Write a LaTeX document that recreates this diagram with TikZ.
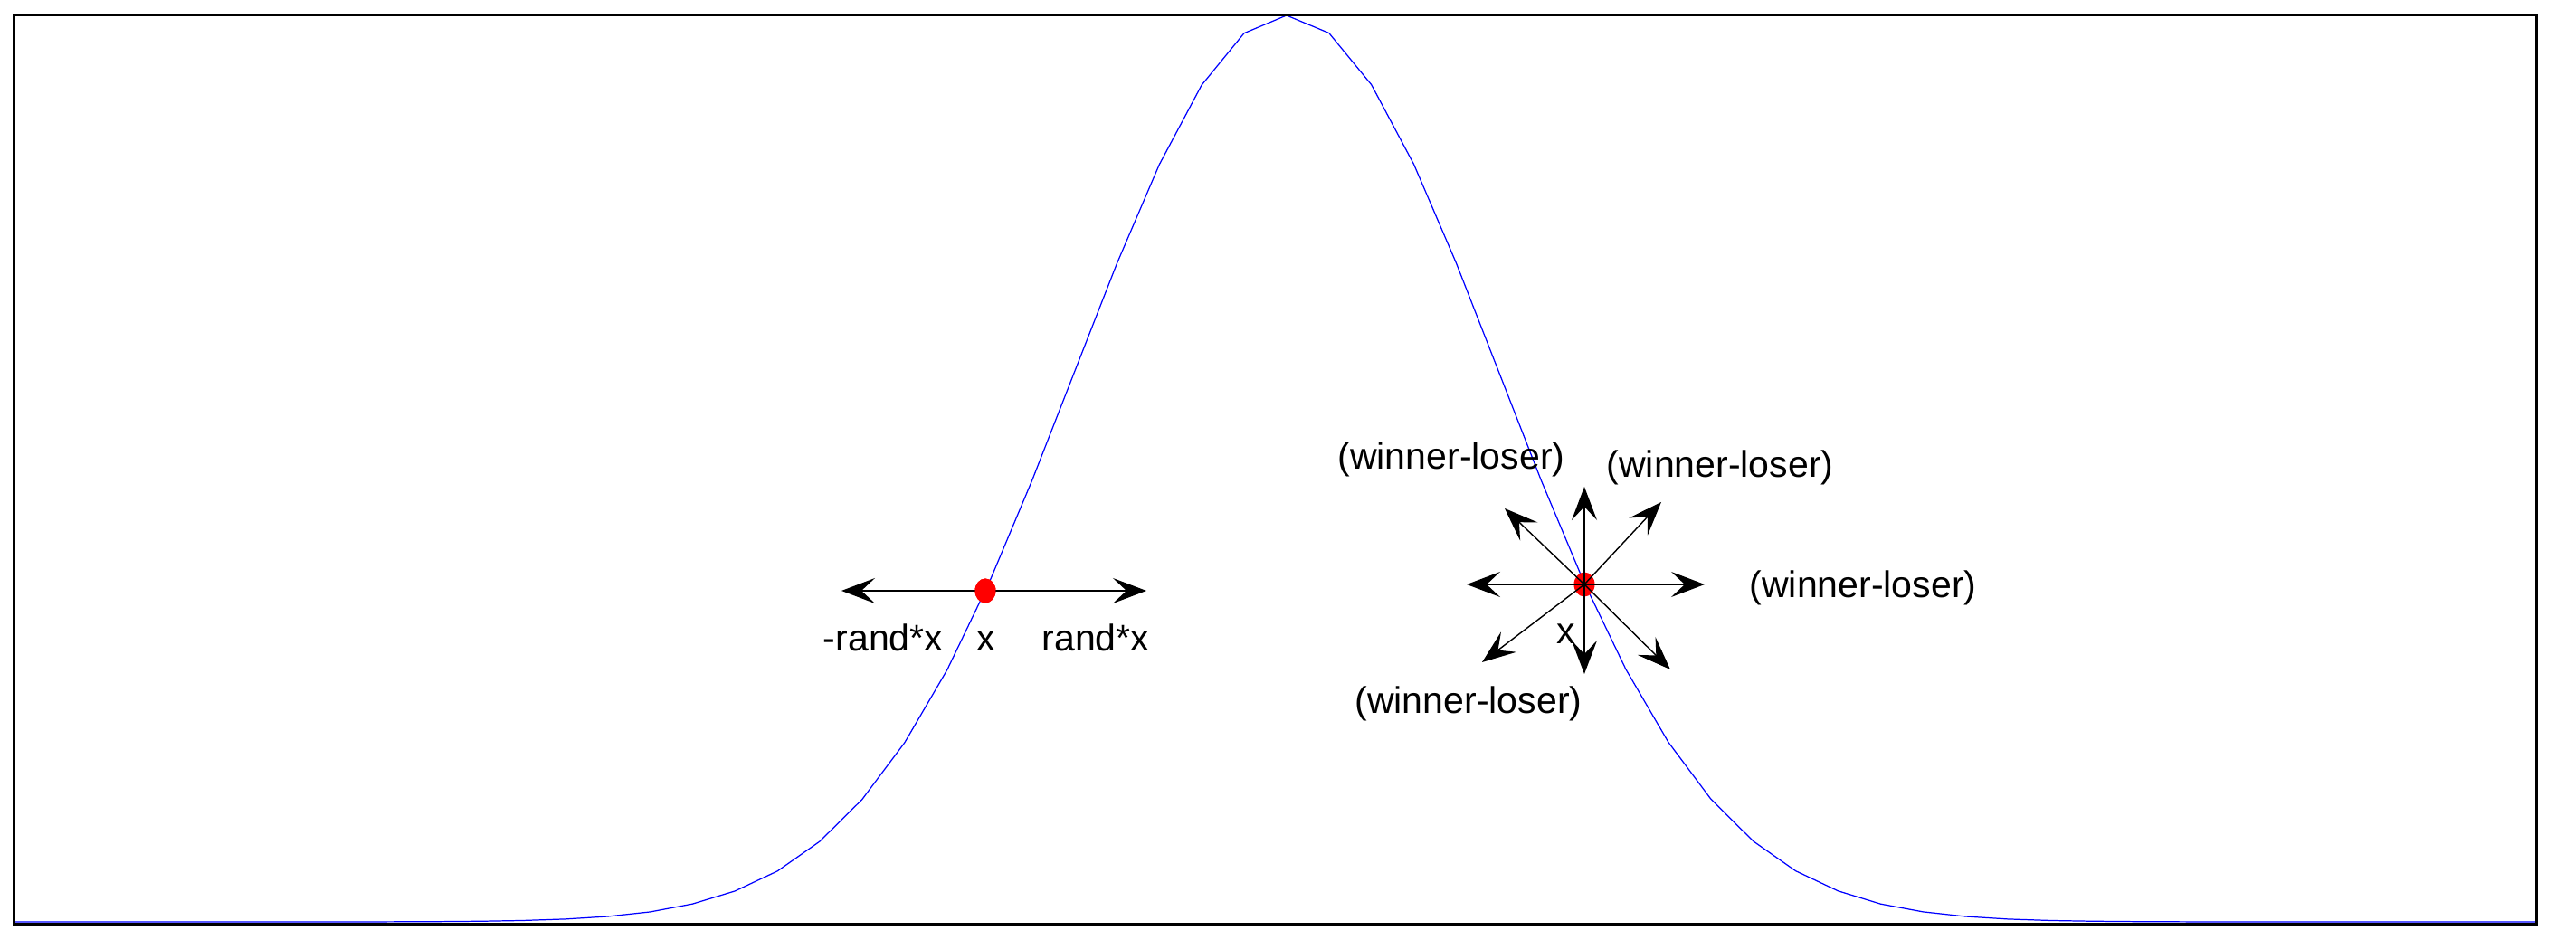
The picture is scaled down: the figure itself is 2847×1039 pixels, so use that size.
\documentclass[tikz,border=0pt]{standalone}
\usepackage{fontspec}
\setmainfont{Liberation Sans}
\usetikzlibrary{arrows.meta,shapes.geometric}
\begin{document}
\begin{tikzpicture}[x=0.01cm,y=0.01cm,
  arr/.style={line width=0.4pt, -{Stealth[length=0.37cm,width=0.28cm,inset=0.15cm]}},
  lbl/.style={font=\fontsize{11.67}{14}\selectfont, inner sep=0pt, anchor=base},
  reddot/.style={ellipse, fill=red, draw=none, minimum width=0.23cm, minimum height=0.27cm, inner sep=0pt},
  curve/.style={blue, line width=0.35pt},
  frame/.style={line width=1pt}]
\useasboundingbox (0,0) rectangle (2847,1039);
\fill[white] (0,0) rectangle (2847,1039);
% gaussian curve
\draw[curve] plot[domain=-3:2.9, samples=60] ({1422+469*\x}, {20+1002*exp(-2*\x*\x)}) -- (2803,20);
% frame
\draw[frame] (15.5,17) rectangle (2803.5,1022.5);
% left point
\coordinate (lL) at (930,386);
\coordinate (lR) at (1267,386);
\node[reddot] (d1) at (1089,386) {};
\draw[arr] (d1.center) -- (lL);
\draw[arr] (d1.center) -- (lR);
\node[reddot] at (d1.center) {};
\node[lbl] (t1) at (976,319) {-rand*x};
\node[lbl] (t2) at (1090,319) {x};
\node[lbl] (t3) at (1211,319) {rand*x};
% right point
\node[reddot] (d2) at (1751,393) {};
\coordinate (rU) at (1751,501);
\coordinate (rD) at (1751,294);
\coordinate (rR) at (1884,393);
\coordinate (rL) at (1621,393);
\coordinate (rUL) at (1663,477);
\coordinate (rUR) at (1836,484);
\coordinate (rDL) at (1638,307);
\coordinate (rDR) at (1846,299);
\foreach \t in {rU,rD,rR,rL,rUL,rUR,rDL,rDR}{
  \draw[arr] (d2.center) -- (\t);
}
\node[lbl] (w1) at (1604,520) {(winner-loser)};
\node[lbl] (w2) at (1901,511) {(winner-loser)};
\node[lbl] (w3) at (2059,378) {(winner-loser)};
\node[lbl] (w4) at (1623,250) {(winner-loser)};
\node[lbl] (x2) at (1731,327) {x};
\end{tikzpicture}
\end{document}
